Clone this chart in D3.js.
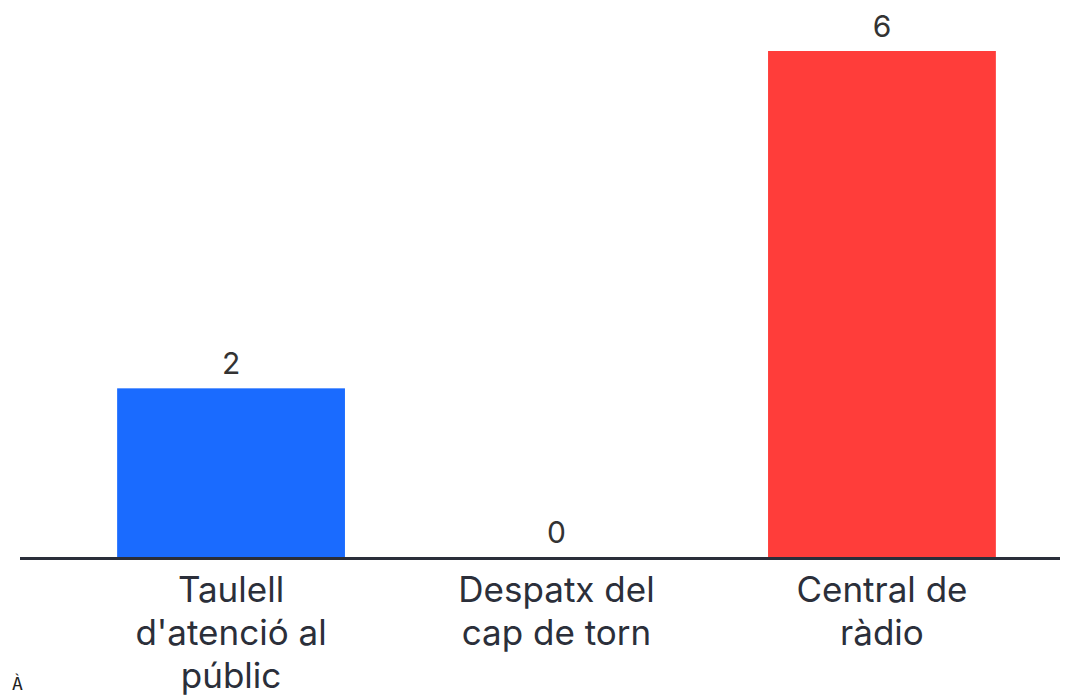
<!DOCTYPE html>
<html>
<head>
<meta charset="utf-8">
<script src="https://cdn.jsdelivr.net/npm/d3@7"></script>
<style>
  body { margin: 0; background: #fff; }
  svg { display: block; }
  .val { font-family: Inter, sans-serif; font-size: 30px; fill: #333; }
  .cat { font-family: Inter, sans-serif; font-size: 35px; fill: #2b2f3a; }
</style>
</head>
<body>
<div id="chart"></div>
<script>
var categories = ["Taulell d'atenció al públic", "Despatx del cap de torn", "Central de ràdio"];
var catLines = [["Taulell", "d'atenció al", "públic"], ["Despatx del", "cap de torn"], ["Central de", "ràdio"]];
var values = [2, 0, 6];
var colors = ["#1a6bff", "#1a6bff", "#ff3d3a"];

var width = 1074, height = 695;
var baseY = 557;

var svg = d3.select("#chart").append("svg")
  .attr("width", width)
  .attr("height", height);

var x = d3.scaleBand()
  .domain(categories)
  .range([19.5, 1093.5])
  .paddingInner(0.3)
  .paddingOuter(0.3);

var y = d3.scaleLinear()
  .domain([0, 6])
  .range([baseY, 51]);

// bars
svg.selectAll(".bar")
  .data(values)
  .enter().append("rect")
  .attr("class", "bar")
  .attr("x", function(d, i) { return x(categories[i]); })
  .attr("width", x.bandwidth())
  .attr("y", function(d) { return y(d); })
  .attr("height", function(d) { return baseY - y(d); })
  .attr("fill", function(d, i) { return colors[i]; });

// value labels
svg.selectAll(".val")
  .data(values)
  .enter().append("text")
  .attr("class", "val")
  .attr("text-anchor", "middle")
  .attr("x", function(d, i) { return x(categories[i]) + x.bandwidth() / 2; })
  .attr("y", function(d) { return y(d) - 14; })
  .text(function(d) { return d; });

// baseline
svg.append("line")
  .attr("x1", 20).attr("x2", 1060)
  .attr("y1", baseY + 1.5).attr("y2", baseY + 1.5)
  .attr("stroke", "#2a2e3a")
  .attr("stroke-width", 3);

// category labels
var cats = svg.selectAll(".cat")
  .data(categories)
  .enter().append("text")
  .attr("class", "cat")
  .attr("text-anchor", "middle")
  .attr("x", function(d) { return x(d) + x.bandwidth() / 2; })
  .attr("y", 602);

cats.each(function(d, i) {
  var t = d3.select(this);
  catLines[i].forEach(function(line, j) {
    t.append("tspan")
      .attr("x", x(d) + x.bandwidth() / 2)
      .attr("dy", j === 0 ? 0 : 43)
      .text(line);
  });
});

svg.append("text")
  .attr("x", 12).attr("y", 690)
  .style("font-family", "DejaVu Sans Mono, monospace")
  .style("font-size", "18px")
  .attr("fill", "#222")
  .text("À");
</script>
</body>
</html>
